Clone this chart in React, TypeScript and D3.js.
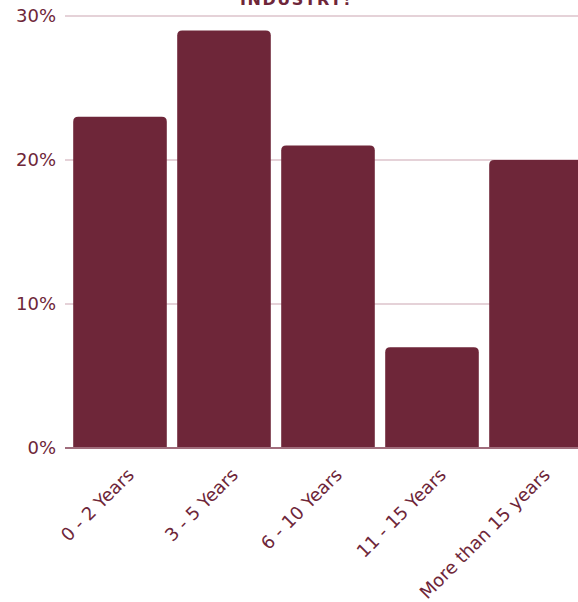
import React from "react";
import * as d3 from "d3";

const categories = ["0 - 2 Years", "3 - 5 Years", "6 - 10 Years", "11 - 15 Years", "More than 15 years"];
const values = [23, 29, 21, 7, 20];
const yTicks = [0, 10, 20, 30];
const title = "INDUSTRY!";

const W = 578;
const H = 602;
const color = "#6e2639";

export default function App() {
  const x = d3.scaleBand<string>().domain(categories).range([68, 588]).paddingInner(0.1).paddingOuter(0.05);
  const y = d3.scaleLinear().domain([0, 30]).range([448, 16]);
  const r = 5;
  const barPath = (xs: number, w: number, top: number, bottom: number) => {
    const p = d3.path();
    p.moveTo(xs, bottom);
    p.lineTo(xs, top + r);
    p.quadraticCurveTo(xs, top, xs + r, top);
    p.lineTo(xs + w - r, top);
    p.quadraticCurveTo(xs + w, top, xs + w, top + r);
    p.lineTo(xs + w, bottom);
    p.closePath();
    return p.toString();
  };
  return (
    <svg width={W} height={H} style={{ position: "absolute", left: 0, top: 0 }} fontFamily="'DejaVu Sans', sans-serif">
      <text x={296} y={5} textAnchor="middle" fontSize={16} fontWeight={700} fill={color} letterSpacing={1.5}>{title}</text>
      {yTicks.map((t) => (
        <g key={t}>
          {t > 0 && <line x1={65} x2={W} y1={y(t)} y2={y(t)} stroke="#dcc3cb" strokeWidth={1.5} />}
          <text x={56} y={y(t)} dy="0.36em" textAnchor="end" fontSize={18} fill={color}>{t}%</text>
        </g>
      ))}
      {categories.map((c, i) => (
        <path key={c} d={barPath(x(c)!, x.bandwidth(), y(values[i]), y(0))} fill={color} />
      ))}
      <line x1={65} x2={W} y1={y(0)} y2={y(0)} stroke="#a06d7c" strokeWidth={2} />
      {categories.map((c) => {
        const cx = x(c)! + x.bandwidth() / 2 + 6;
        return (
          <text key={c} transform={`translate(${cx},${467}) rotate(-45)`} textAnchor="end" dy="0.71em" fontSize={18} fill={color}>{c}</text>
        );
      })}
    </svg>
  );
}
